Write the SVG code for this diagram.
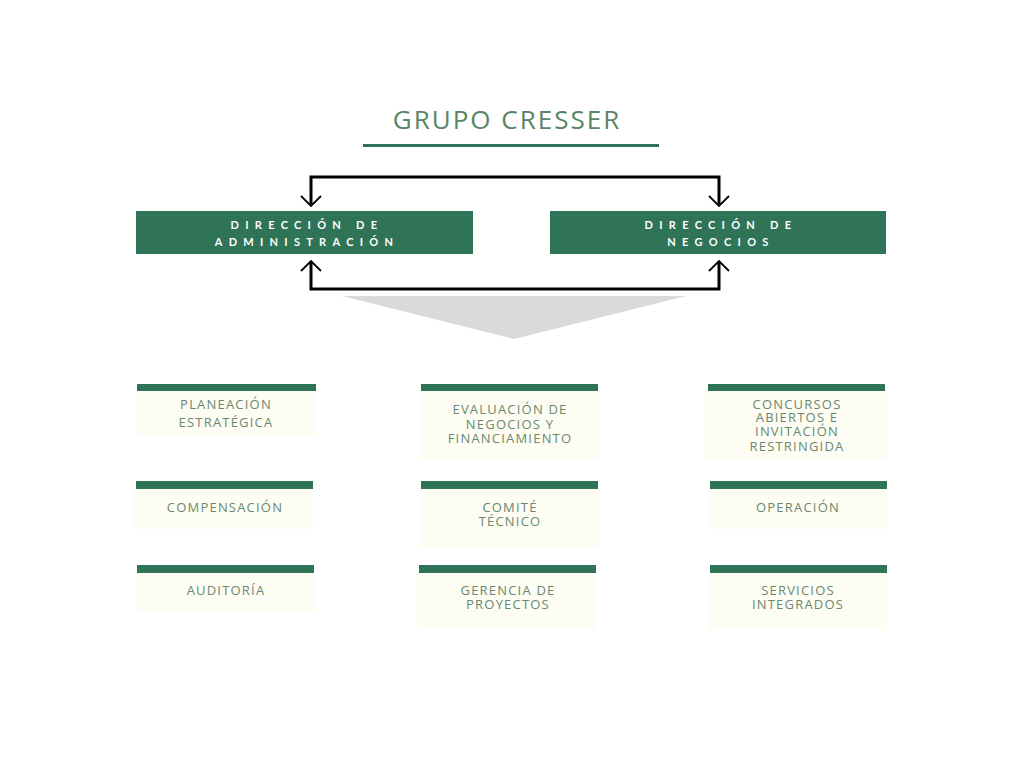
<svg xmlns="http://www.w3.org/2000/svg" width="1024" height="768" viewBox="0 0 1024 768">
<style>
.hd{fill:#2f7457}
.bar{fill:#2f7457}
.cr{fill:#fdfdf3}
.ht{font-family:Lato,"Open Sans",sans-serif;font-size:11px;font-weight:bold;fill:#fff;letter-spacing:6.3px;text-anchor:middle}
.t{font-family:"Open Sans","Liberation Sans",sans-serif;font-size:13px;fill:#6a8870;text-anchor:middle;letter-spacing:1.2px}
.ln{fill:none;stroke:#000;stroke-width:3}
.ar{fill:none;stroke:#000;stroke-width:1.8}
</style>
<rect width="1024" height="768" fill="#fff"/>
<g id="title">
<text x="507" y="129" font-family="'Open Sans','Liberation Sans',sans-serif" font-size="26" fill="#5a8466" text-anchor="middle" letter-spacing="2">GRUPO CRESSER</text>
<rect x="363" y="144" width="296" height="3" fill="#2f7457"/>
</g>
<g id="connectors">
<polyline class="ln" points="311,205 311,177 719,177 719,205"/>
<polyline class="ar" points="301,196 311,206 321,196"/>
<polyline class="ar" points="709,196 719,206 729,196"/>
<polyline class="ln" points="311,262 311,289 719,289 719,262"/>
<polyline class="ar" points="301,271 311,261 321,271"/>
<polyline class="ar" points="709,271 719,261 729,271"/>
<polygon points="342,296 686,296 514,339" fill="#d9d9d9"/>
</g>
<g id="dir-admin"><rect class="hd" x="136" y="211" width="337" height="43"/>
<text class="ht" x="307" y="229">DIRECCIÓN DE</text><text class="ht" x="307" y="246">ADMINISTRACIÓN</text></g>
<g id="dir-neg"><rect class="hd" x="550" y="211" width="336" height="43"/>
<text class="ht" x="721" y="229">DIRECCIÓN DE</text><text class="ht" x="721" y="246">NEGOCIOS</text></g>

<g id="planeacion"><rect class="cr" x="137" y="391" width="179" height="45"/><rect class="bar" x="137" y="384" width="179" height="7"/>
<text class="t" x="226" y="409">PLANEACIÓN</text><text class="t" x="226" y="427">ESTRATÉGICA</text></g>
<g id="evaluacion"><rect class="cr" x="420" y="391" width="179" height="69"/><rect class="bar" x="421" y="384" width="177" height="7"/>
<text class="t" x="510" y="414">EVALUACIÓN DE</text><text class="t" x="510" y="429">NEGOCIOS Y</text><text class="t" x="510" y="443">FINANCIAMIENTO</text></g>
<g id="concursos"><rect class="cr" x="705" y="391" width="182" height="69"/><rect class="bar" x="708" y="384" width="177" height="7"/>
<text class="t" x="797" y="409">CONCURSOS</text><text class="t" x="797" y="422">ABIERTOS E</text><text class="t" x="797" y="436">INVITACIÓN</text><text class="t" x="797" y="451">RESTRINGIDA</text></g>

<g id="compensacion"><rect class="cr" x="134" y="489" width="179" height="40"/><rect class="bar" x="136" y="481" width="177" height="8"/>
<text class="t" x="225" y="512">COMPENSACIÓN</text></g>
<g id="comite"><rect class="cr" x="420" y="489" width="179" height="58"/><rect class="bar" x="421" y="481" width="177" height="8"/>
<text class="t" x="510" y="512">COMITÉ</text><text class="t" x="510" y="526">TÉCNICO</text></g>
<g id="operacion"><rect class="cr" x="708" y="489" width="179" height="40"/><rect class="bar" x="710" y="481" width="177" height="8"/>
<text class="t" x="798" y="512">OPERACIÓN</text></g>

<g id="auditoria"><rect class="cr" x="137" y="573" width="177" height="39"/><rect class="bar" x="137" y="565" width="177" height="8"/>
<text class="t" x="226" y="595">AUDITORÍA</text></g>
<g id="gerencia"><rect class="cr" x="417" y="573" width="179" height="57"/><rect class="bar" x="419" y="565" width="177" height="8"/>
<text class="t" x="508" y="595">GERENCIA DE</text><text class="t" x="508" y="609">PROYECTOS</text></g>
<g id="servicios"><rect class="cr" x="708" y="573" width="179" height="57"/><rect class="bar" x="710" y="565" width="177" height="8"/>
<text class="t" x="798" y="595">SERVICIOS</text><text class="t" x="798" y="609">INTEGRADOS</text></g>
</svg>
